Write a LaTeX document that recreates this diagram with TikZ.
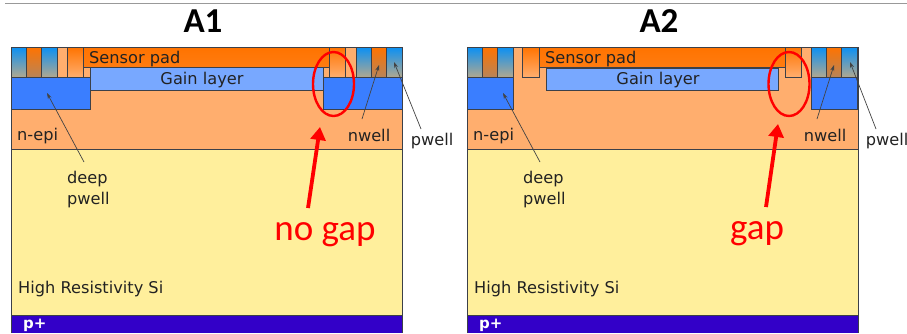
\documentclass[tikz,border=0pt]{standalone}
\usepackage{fontspec}
\setmainfont{DejaVu Sans}
\newfontfamily\titlefont{Carlito}
\newfontfamily\redfont{Carlito}
\usetikzlibrary{arrows.meta,shapes.geometric}
\definecolor{epi}{HTML}{FFAE6E}
\definecolor{bulk}{HTML}{FFEF9C}
\definecolor{pplus}{HTML}{3300C8}
\definecolor{deep}{HTML}{3A7EFF}
\definecolor{gainc}{HTML}{78A8FF}
\definecolor{padc}{HTML}{FF7300}
\definecolor{wblue}{HTML}{0A90F4}
\definecolor{wbluelow}{HTML}{B0A890}
\definecolor{nwlow}{HTML}{B88458}
\definecolor{edgec}{HTML}{3C4048}
\definecolor{txt}{HTML}{222222}
\tikzset{
  x=1pt,y=-1pt,
  layer/.style={draw=edgec,line width=0.7pt},
  lbl/.style={font=\fontsize{16.2}{21}\selectfont,text=txt,inner sep=0pt},
  ptr/.style={draw=txt!85,line width=0.7pt,-{Stealth[length=6pt,width=4pt]}},
  redring/.style={draw=red,line width=2.4pt,ellipse,inner sep=0pt,minimum width=41pt,minimum height=64pt},
  redarrow/.style={draw=red,line width=3.8pt,-{Triangle[length=13pt,width=15pt]}},
  redlbl/.style={font=\redfont\fontsize{37}{40}\selectfont,text=red,inner sep=0pt,anchor=base},
  titlelbl/.style={font=\titlefont\bfseries\fontsize{35}{38}\selectfont,text=black,inner sep=0pt},
  wellblue/.style={layer,top color=wblue,middle color=wblue!70!wbluelow,bottom color=wbluelow},
  wellnw/.style={layer,top color=padc,middle color=padc!70!nwlow,bottom color=nwlow},
  contactc/.style={layer,top color=padc,middle color=padc,bottom color=epi},
  padstyle/.style={layer,top color=padc,bottom color=padc!85!epi},
}
\newcommand{\wellcols}[1]{%
  \draw[wellblue] (#1,47) rectangle ++(15.5,30);
  \draw[wellnw] (#1+15.5,47) rectangle ++(15.2,30);
  \draw[wellblue] (#1+30.7,47) rectangle ++(15.3,30);
}
\newcommand{\contactcol}[1]{%
  \draw[contactc] (#1,47) rectangle ++(16.5,30);
}
\newcommand{\substrate}[1]{%
  \fill[gray!70] (#1+391,47) rectangle (#1+392.2,333);
  \fill[epi] (#1,47) rectangle (#1+391,149);
  \fill[bulk] (#1,149) rectangle (#1+391,315);
  \fill[pplus] (#1,315) rectangle (#1+391,333);
  \draw[layer] (#1,333) -- (#1,47) -- (#1+391,47) -- (#1+391,333);
  \draw[layer] (#1,149) -- (#1+391,149);
  \draw[layer] (#1,315) -- (#1+391,315);
}
\begin{document}
\begin{tikzpicture}
\useasboundingbox (0,0) rectangle (907,333);
\fill[white] (0,0) rectangle (907,333);
\coordinate (ruleL) at (5,3.5);
\coordinate (ruleR) at (907,3.5);
\draw[gray!80,line width=0.8pt] (ruleL) -- (ruleR);

% ---------- A1 ----------
\node[titlelbl] (t1) at (203,21) {A1};
\substrate{11}
\wellcols{11}
\contactcol{67}
\draw[layer,fill=gainc] (90,67.5) rectangle (323,90);
\draw[padstyle] (83,47) rectangle (329,67);
\draw[layer,fill=deep] (11,77) rectangle (90,109);
\contactcol{329}
\wellcols{356}
\draw[layer,fill=deep] (323,77) rectangle (402,109);
\node[lbl,anchor=base west] (nepi1) at (17,140) {n-epi};
\node[lbl,anchor=base west] (pad1) at (89,63) {Sensor pad};
\node[lbl,anchor=base] (gain1) at (202,84) {Gain layer};
\node[lbl,align=left,anchor=north west] (dp1) at (67,171) {deep\\pwell};
\node[lbl,anchor=base] (nw1) at (369,141) {nwell};
\node[lbl,anchor=base] (pw1) at (432,145) {pwell};
\node[lbl,anchor=base west] (hr1) at (18,293) {High Resistivity Si};
\node[lbl,anchor=base west,text=white,font=\bfseries\fontsize{15}{17}\selectfont] (pp1) at (23,328) {p+};
\coordinate (d1a) at (84,162); \coordinate (d1b) at (47,93);
\draw[ptr] (d1a) -- (d1b);
\coordinate (n1a) at (362,119); \coordinate (n1b) at (379,65);
\draw[ptr] (n1a) -- (n1b);
\coordinate (p1a) at (421,129); \coordinate (p1b) at (394,62);
\draw[ptr] (p1a) -- (p1b);
\node[redring] (ring1) at (333.5,84) {};
\coordinate (r1a) at (308,208); \coordinate (r1b) at (320,127);
\draw[redarrow] (r1a) -- (r1b);
\node[redlbl] (lab1) at (325,240) {no gap};

% ---------- A2 ----------
\node[titlelbl] (t2) at (659,21) {A2};
\substrate{467}
\wellcols{467}
\contactcol{522.5}
\draw[layer,fill=gainc] (546,68) rectangle (778.5,90);
\draw[padstyle] (539,47) rectangle (785,67);
\draw[layer,fill=deep] (467,77) rectangle (513,109);
\contactcol{785}
\wellcols{811}
\draw[layer,fill=deep] (811,77) rectangle (857,109);
\node[lbl,anchor=base west] (nepi2) at (473,140) {n-epi};
\node[lbl,anchor=base west] (pad2) at (545,63) {Sensor pad};
\node[lbl,anchor=base] (gain2) at (658,84) {Gain layer};
\node[lbl,align=left,anchor=north west] (dp2) at (523,171) {deep\\pwell};
\node[lbl,anchor=base] (nw2) at (825,141) {nwell};
\node[lbl,anchor=base] (pw2) at (887,145) {pwell};
\node[lbl,anchor=base west] (hr2) at (474,293) {High Resistivity Si};
\node[lbl,anchor=base west,text=white,font=\bfseries\fontsize{15}{17}\selectfont] (pp2) at (479,328) {p+};
\coordinate (d2a) at (540,162); \coordinate (d2b) at (503,93);
\draw[ptr] (d2a) -- (d2b);
\coordinate (n2a) at (817,119); \coordinate (n2b) at (834,65);
\draw[ptr] (n2a) -- (n2b);
\coordinate (p2a) at (876,129); \coordinate (p2b) at (850,62);
\draw[ptr] (p2a) -- (p2b);
\node[redring] (ring2) at (789,84) {};
\coordinate (r2a) at (766,207); \coordinate (r2b) at (778,124);
\draw[redarrow] (r2a) -- (r2b);
\node[redlbl] (lab2) at (757,239) {gap};
\end{tikzpicture}
\end{document}
